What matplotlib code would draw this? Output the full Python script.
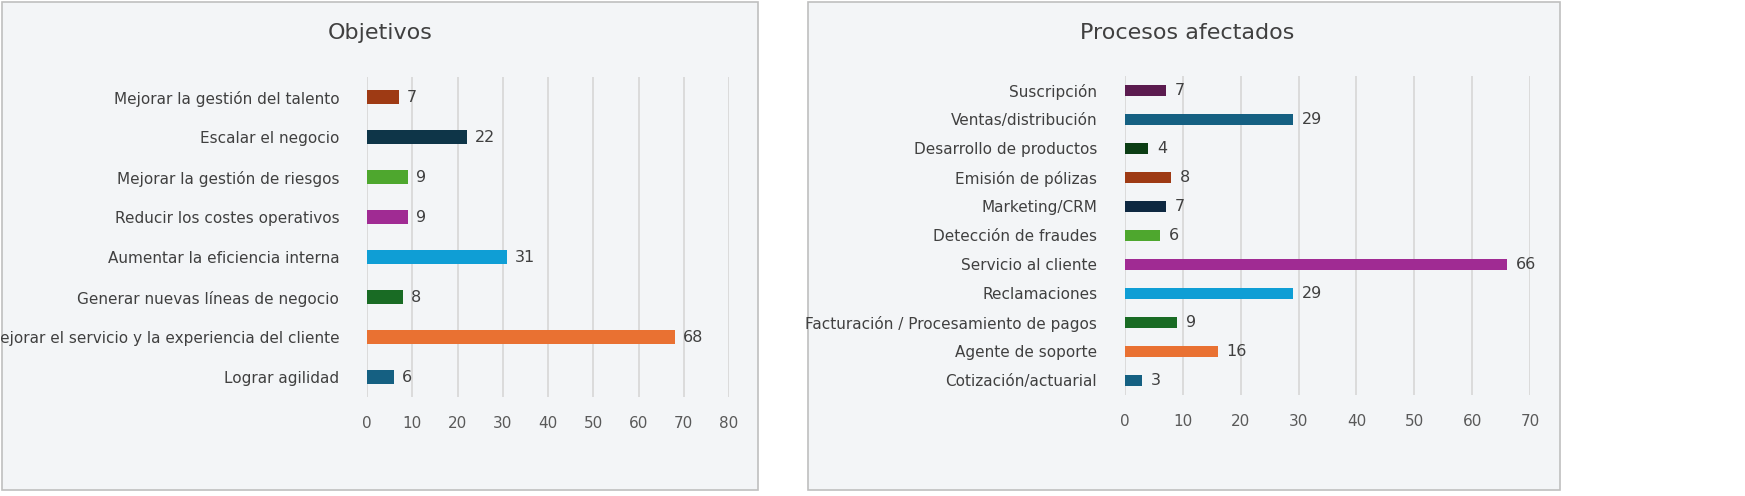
import matplotlib
matplotlib.use("Agg")
import matplotlib.pyplot as plt
from matplotlib.patches import Rectangle

obj_labels = ["Mejorar la gestión del talento", "Escalar el negocio", "Mejorar la gestión de riesgos",
              "Reducir los costes operativos", "Aumentar la eficiencia interna", "Generar nuevas líneas de negocio",
              "Mejorar el servicio y la experiencia del cliente", "Lograr agilidad"]
obj_values = [7, 22, 9, 9, 31, 8, 68, 6]
obj_colors = ["#9E3A14", "#0E3548", "#4EA72E", "#A02B93", "#0F9ED5", "#196B24", "#E97132", "#156082"]

proc_labels = ["Suscripción", "Ventas/distribución", "Desarrollo de productos", "Emisión de pólizas",
               "Marketing/CRM", "Detección de fraudes", "Servicio al cliente", "Reclamaciones",
               "Facturación / Procesamiento de pagos", "Agente de soporte", "Cotización/actuarial"]
proc_values = [7, 29, 4, 8, 7, 6, 66, 29, 9, 16, 3]
proc_colors = ["#5B1B4F", "#156082", "#0B3D14", "#9E3A14", "#0E2841", "#4EA72E", "#A02B93", "#0F9ED5",
               "#196B24", "#E97132", "#156082"]

W, H = 1745, 496
fig = plt.figure(figsize=(W/100, H/100), dpi=100)
fig.patch.set_facecolor("white")
for x0, x1 in [(2, 758), (808, 1560)]:
    fig.patches.append(Rectangle((x0/W, 6/H), (x1-x0)/W, 488/H, transform=fig.transFigure,
                                 facecolor="#F3F5F7", edgecolor="#BFBFBF", lw=1.2, zorder=-5))

def panel(rect, labels, values, colors, xmax, title, tx, h):
    ax = fig.add_axes(rect)
    ax.set_zorder(5)
    ax.set_facecolor("none")
    n = len(labels)
    ys = list(range(n))[::-1]
    ax.barh(ys, values, color=colors, height=h, zorder=3)
    for y, v in zip(ys, values):
        ax.text(v + xmax*0.022, y, str(v), va="center", ha="left", fontsize=11.5, color="#404040")
    ax.set_ylim(-0.5, n-0.5)
    ax.set_xlim(0, xmax)
    ax.set_xticks(range(0, xmax+1, 10))
    ax.set_yticks(ys)
    ax.set_yticklabels(labels, fontsize=11, color="#404040")
    ax.tick_params(axis="x", labelsize=11, colors="#595959", length=0, pad=14)
    ax.tick_params(axis="y", length=0, pad=20)
    ax.grid(axis="x", color="#D9D9D9", lw=1.3, zorder=0)
    for s in ax.spines.values():
        s.set_visible(False)
    fig.text(tx/W, 1-33/H, title, ha="center", va="center", fontsize=16, color="#404040", zorder=6)

panel([367/W, 0.1996, 362/W, 0.645], obj_labels, obj_values, obj_colors, 80, "Objetivos", 380, 0.35)
panel([1125/W, 0.2046, 405/W, 0.643], proc_labels, proc_values, proc_colors, 70, "Procesos afectados", 1187, 0.38)
fig.savefig("out.png", dpi=100)
